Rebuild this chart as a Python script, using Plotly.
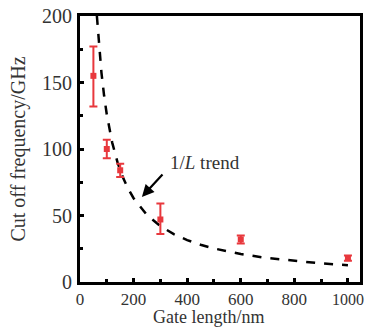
import plotly.graph_objects as go

gate_length = [50, 100, 150, 300, 600, 1000]
cutoff_freq = [155, 100, 84, 47, 32, 18]
err_plus = [22, 7, 5, 12, 3, 2]
err_minus = [23, 7, 5, 11, 3, 2]

trend_k = 12600
trend_L = [63, 70, 80, 90, 100, 120, 140, 160, 180, 200, 250, 300, 350, 400, 450, 500,
           600, 700, 800, 900, 1000]
trend_f = [trend_k / L for L in trend_L]

x_tickvals = [0, 200, 400, 600, 800, 1000]
x_ticktext = ["0", "200", "400", "600", "800", "1000"]
y_tickvals = [0, 50, 100, 150, 200]

serif = "Liberation Serif"
red = "#e8383d"
txt = "#333333"

# the last label is narrower in the reference
x_ticklabels = x_ticktext[:-1] + ['<span style="font-size:16px">%s</span>' % x_ticktext[-1]]

fig = go.Figure()
fig.add_trace(go.Scatter(x=trend_L, y=trend_f, mode="lines",
                         line=dict(color="black", width=2.5, dash="9px,9px"),
                         showlegend=False))
fig.add_trace(go.Scatter(x=gate_length, y=cutoff_freq, mode="markers",
                         marker=dict(color=red, size=6, symbol="square"),
                         error_y=dict(type="data", array=err_plus, arrayminus=err_minus,
                                      color=red, thickness=2, width=4),
                         showlegend=False))

fig.add_annotation(x=231, y=64, ax=313, ay=82, axref="x", ayref="y",
                   xref="x", yref="y", text="", showarrow=True,
                   arrowhead=2, arrowsize=1.1, arrowwidth=2.2, arrowcolor="black")
fig.add_annotation(x=328, y=90, xref="x", yref="y", text="1/<i>L</i> trend",
                   showarrow=False, xanchor="left", yanchor="middle",
                   font=dict(family=serif, size=19, color=txt))
fig.add_annotation(x=478, y=0, xref="x", yref="paper", text="Gate length/nm",
                   showarrow=False, xanchor="center", yanchor="bottom", yshift=-47,
                   font=dict(family=serif, size=18, color=txt))

fig.update_layout(
    width=366, height=329,
    margin=dict(l=80, r=6, t=16, b=47),
    plot_bgcolor="white", paper_bgcolor="white",
    font=dict(family=serif, size=18, color=txt),
)
fig.update_xaxes(range=[0, 1045], tickvals=x_tickvals, ticktext=x_ticklabels,
                 ticks="inside", ticklen=4, tickwidth=2.5, tickcolor="black",
                 minor=dict(tickvals=[100, 300, 500, 700, 900], ticks="inside",
                            ticklen=3, tickwidth=2.5, tickcolor="black"),
                 showline=True, linecolor="black", linewidth=3, mirror=True,
                 showgrid=False, zeroline=False, automargin=False,
                 tickfont=dict(family=serif, size=17, color=txt))
fig.update_yaxes(range=[0, 200], tickvals=y_tickvals,
                 ticks="inside", ticklen=4, tickwidth=2.5, tickcolor="black",
                 minor=dict(tickvals=[25, 75, 125, 175], ticks="inside",
                            ticklen=3, tickwidth=2.5, tickcolor="black"),
                 showline=True, linecolor="black", linewidth=3, mirror=True,
                 showgrid=False, zeroline=False, ticklabelstandoff=1, automargin=False,
                 tickfont=dict(family=serif, size=20, color=txt),
                 title=dict(text="Cut off frequency/GHz", standoff=12,
                            font=dict(family=serif, size=20, color=txt)))

fig.write_html("out.html", config={"displayModeBar": False},
               post_script="document.body.style.margin='0';document.body.style.overflow='hidden';")
